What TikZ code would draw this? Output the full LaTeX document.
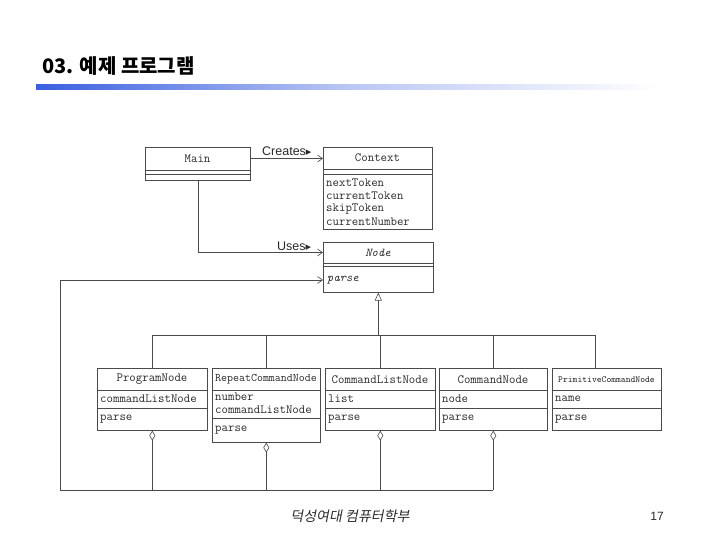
\documentclass[tikz,border=0pt]{standalone}
\usepackage{fontspec}
\usetikzlibrary{arrows.meta}
\setmainfont{Liberation Sans}
\newfontfamily\krfont{Noto Sans CJK KR}
\newfontfamily\krslant{Noto Sans CJK KR}[FakeSlant=0.2]
\newfontfamily\dejavu{DejaVu Sans}
\definecolor{linec}{HTML}{4A4A4A}
\definecolor{textc}{HTML}{2A2A2A}
\definecolor{barblue}{HTML}{3A5FE0}
\tikzset{
  cls/.style={draw=linec, line width=0.6pt, anchor=north west, inner sep=0pt},
  hdr/.style={font=\ttfamily\fontsize{12.5}{14}\selectfont, text=textc, inner sep=0pt},
  attr/.style={font=\ttfamily\fontsize{12.5}{14}\selectfont, text=textc, anchor=west, inner sep=0pt},
  conn/.style={draw=linec, line width=0.6pt},
  dep/.style={conn, -{Straight Barb[length=5pt,width=7pt]}},
  gen/.style={conn, {Triangle[open,length=8pt,width=7pt]}-},
  agg/.style={conn, {Diamond[open,length=10pt,width=6pt]}-},
  lbl/.style={font=\fontsize{12.5}{14}\selectfont, text=textc, inner sep=0pt},
}
\begin{document}
\begin{tikzpicture}[x=1pt,y=-1pt]
\useasboundingbox (0,0) rectangle (720,540);
% title
\node[anchor=west, inner sep=0pt, font=\krfont\bfseries\fontsize{20}{22}\selectfont] (title) at (42,66) {03. 예제 프로그램};
\shade[left color=barblue, right color=white, middle color=barblue!35] (36,85) rectangle (660,90);

% Main
\node[cls, minimum width=105pt, minimum height=33pt] (main) at (145,147) {};
\node[hdr] (mainh) at (197.5,158.5) {Main};
\draw[conn] (main.west |- 0,170) -- (main.east |- 0,170);
\draw[conn] (main.west |- 0,174.5) -- (main.east |- 0,174.5);

% Context
\node[cls, minimum width=109pt, minimum height=82pt] (ctx) at (323,147) {};
\node[hdr] (ctxh) at (377.5,158) {Context};
\draw[conn] (ctx.west |- 0,169) -- (ctx.east |- 0,169);
\draw[conn] (ctx.west |- 0,174) -- (ctx.east |- 0,174);
\node[attr] (c1) at (326,183) {nextToken};
\node[attr] (c2) at (326,196) {currentToken};
\node[attr] (c3) at (326,209) {skipToken};
\node[attr] (c4) at (326,222) {currentNumber};

% Node
\node[cls, minimum width=110pt, minimum height=50pt] (node) at (323,242) {};
\node[hdr, font=\ttfamily\itshape\fontsize{12}{14}\selectfont] (nodeh) at (378,252.5) {Node};
\draw[conn] (node.west |- 0,263) -- (node.east |- 0,263);
\draw[conn] (node.west |- 0,266) -- (node.east |- 0,266);
\node[attr, font=\ttfamily\itshape\fontsize{12}{14}\selectfont] (nodep) at (327,280) {parse};

% ProgramNode
\node[cls, minimum width=110pt, minimum height=62pt] (pn) at (97,368) {};
\node[hdr] (pnh) at (152,379.5) {ProgramNode};
\draw[conn] (pn.west |- 0,390) -- (pn.east |- 0,390);
\draw[conn] (pn.west |- 0,408) -- (pn.east |- 0,408);
\node[attr] (pna) at (100,399) {commandListNode};
\node[attr] (pnm) at (100,419) {parse};

% RepeatCommandNode
\node[cls, minimum width=108pt, minimum height=74pt] (rn) at (212,368) {};
\node[hdr, font=\ttfamily\fontsize{11.6}{13}\selectfont] (rnh) at (266,379.5) {RepeatCommandNode};
\draw[conn] (rn.west |- 0,390) -- (rn.east |- 0,390);
\draw[conn] (rn.west |- 0,418) -- (rn.east |- 0,418);
\node[attr] (rna1) at (215,397) {number};
\node[attr] (rna2) at (215,410) {commandListNode};
\node[attr] (rnm) at (215,430) {parse};

% CommandListNode
\node[cls, minimum width=110pt, minimum height=62pt] (cln) at (325,368) {};
\node[hdr] (clnh) at (380,379.5) {CommandListNode};
\draw[conn] (cln.west |- 0,390) -- (cln.east |- 0,390);
\draw[conn] (cln.west |- 0,408) -- (cln.east |- 0,408);
\node[attr] (clna) at (328,399) {list};
\node[attr] (clnm) at (328,419) {parse};

% CommandNode
\node[cls, minimum width=108pt, minimum height=62pt] (cn) at (439,368) {};
\node[hdr] (cnh) at (493,379.5) {CommandNode};
\draw[conn] (cn.west |- 0,390) -- (cn.east |- 0,390);
\draw[conn] (cn.west |- 0,408) -- (cn.east |- 0,408);
\node[attr] (cna) at (442,399) {node};
\node[attr] (cnm) at (442,419) {parse};

% PrimitiveCommandNode
\node[cls, minimum width=109pt, minimum height=62pt] (prim) at (552,368) {};
\node[hdr, font=\ttfamily\fontsize{9.2}{11}\selectfont] (primh) at (606.5,379.5) {PrimitiveCommandNode};
\draw[conn] (prim.west |- 0,390) -- (prim.east |- 0,390);
\draw[conn] (prim.west |- 0,408) -- (prim.east |- 0,408);
\node[attr] (prima) at (555,399) {name};
\node[attr] (primm) at (555,419) {parse};

% Creates / Uses
\draw[dep] (main.east |- mainh) -- (ctx.west |- mainh);
\node[lbl, anchor=south west] (creates) at (262,156) {Creates{\dejavu\fontsize{11}{12}\selectfont ▸}};
\draw[dep] (main.south) |- (node.west |- nodeh);
\node[lbl, anchor=south west] (uses) at (277,251) {Uses{\dejavu\fontsize{11}{12}\selectfont ▸}};

% generalization
\coordinate (genj) at (380,335);
\draw[gen] (node.south) -- (node.south |- genj);
\draw[conn] (pn.north |- genj) -- ([xshift=-12pt]prim.north |- genj);
\draw[conn] (pn.north |- genj) -- (pn.north);
\draw[conn] (rn.north |- genj) -- (rn.north);
\draw[conn] (cln.north |- genj) -- (cln.north);
\draw[conn] (cn.north |- genj) -- (cn.north);
\draw[conn] ([xshift=-12pt]prim.north |- genj) -- ([xshift=-12pt]prim.north);

% aggregation bus
\coordinate (busl) at (60,490);
\draw[agg] (pn.south) -- (pn.south |- busl);
\draw[agg] (rn.south) -- (rn.south |- busl);
\draw[agg] (cln.south) -- (cln.south |- busl);
\draw[agg] (cn.south) -- (cn.south |- busl);
\draw[conn] (cn.south |- busl) -- (busl);
\draw[dep] (busl) |- (node.west |- nodep);

% footer
\node[inner sep=0pt, font=\krslant\fontsize{14}{16}\selectfont, text=textc] (footer) at (350,516) {덕성여대 컴퓨터학부};
\node[inner sep=0pt, font=\fontsize{12}{14}\selectfont, text=textc] (pageno) at (657,516) {17};
\end{tikzpicture}
\end{document}
